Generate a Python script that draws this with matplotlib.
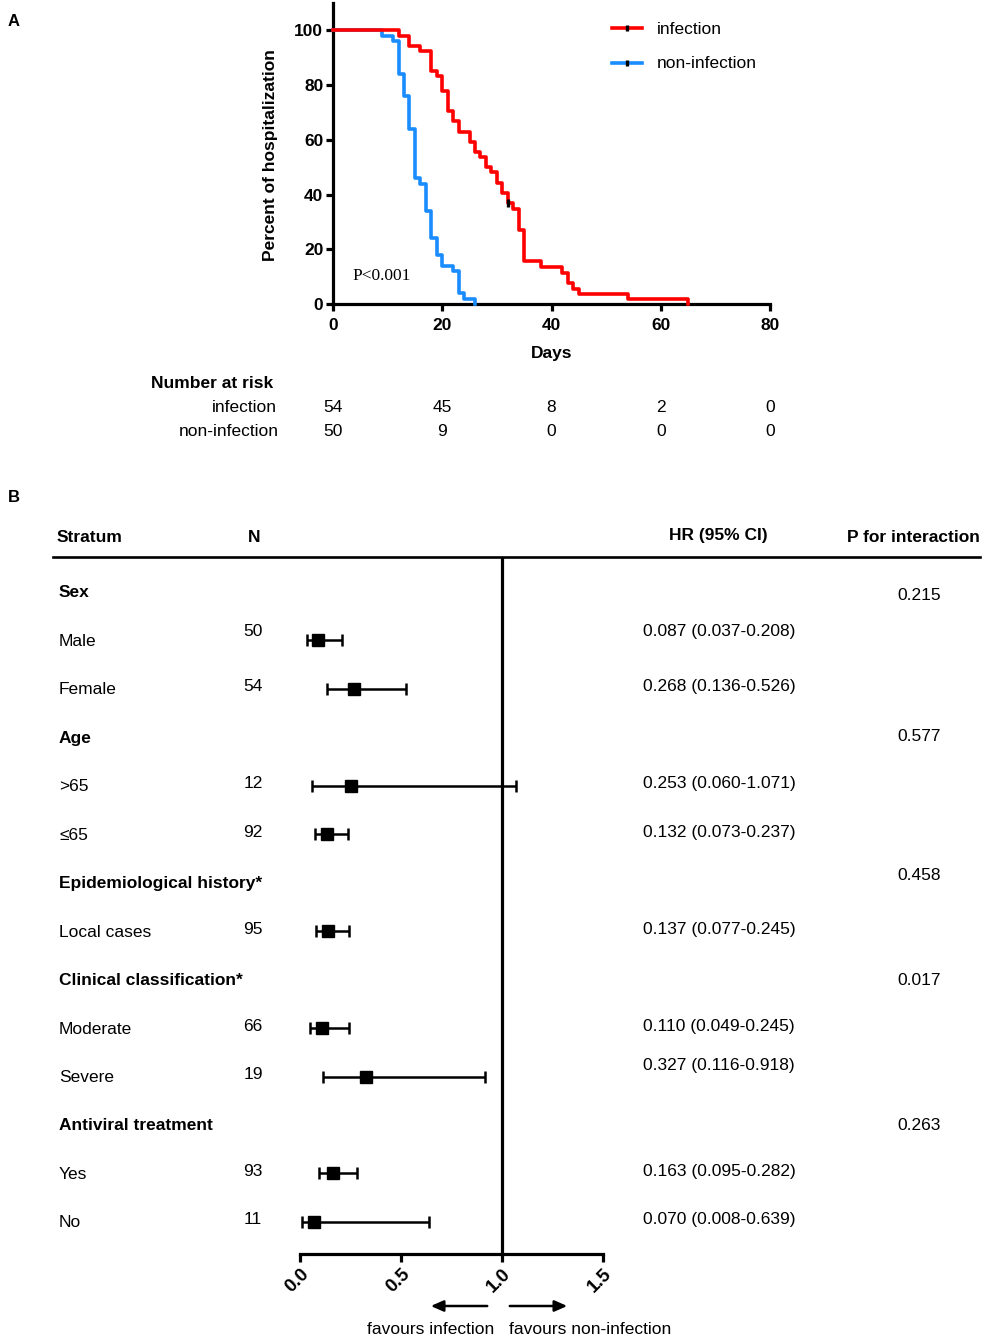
import matplotlib
matplotlib.use('Agg')
import matplotlib.pyplot as plt
from matplotlib.lines import Line2D
from matplotlib.patches import FancyArrowPatch
from matplotlib.transforms import blended_transform_factory

plt.rcParams['font.family'] = ['Liberation Sans', 'DejaVu Sans']

# ---- data: Kaplan-Meier (panel A) ----
inf_days = [0, 12, 14, 16, 18, 19, 20, 21, 22, 23, 25, 26, 27, 28, 29, 30, 31, 32,
            33, 34, 35, 38, 42, 43, 44, 45, 54, 65]
inf_pct = [100, 98.1, 94.4, 92.6, 85.2, 83.3, 77.8, 70.4, 66.7, 63.0, 59.3, 55.6, 53.7,
           50.0, 48.1, 44.4, 40.7, 37.0, 34.9, 27.2, 15.6, 13.6, 11.2, 7.6, 5.5, 3.5, 1.8, 0]
noninf_days = [0, 9, 11, 12, 13, 14, 15, 16, 17, 18, 19, 20, 22, 23, 24, 26]
noninf_pct = [100, 98, 96, 84, 76, 64, 46, 44, 34, 24, 18, 14, 12, 4, 2, 0]
censor_days = [32]
censor_pct = [37.0]

risk_days = [0, 20, 40, 60, 80]
risk_inf = [54, 45, 8, 2, 0]
risk_noninf = [50, 9, 0, 0, 0]

# ---- data: subgroup forest (panel B) ----
group_labels = ['Sex', 'Age', 'Epidemiological history*', 'Clinical classification*',
                'Antiviral treatment']
group_p = ['0.215', '0.577', '0.458', '0.017', '0.263']
sub_labels = [['Male', 'Female'], ['>65', '≤65'], ['Local cases'], ['Moderate', 'Severe'],
              ['Yes', 'No']]
sub_n = [[50, 54], [12, 92], [95], [66, 19], [93, 11]]
sub_hr = [[0.087, 0.268], [0.253, 0.132], [0.137], [0.110, 0.327], [0.163, 0.070]]
sub_lo = [[0.037, 0.136], [0.060, 0.073], [0.077], [0.049, 0.116], [0.095, 0.008]]
sub_hi = [[0.208, 0.526], [1.071, 0.237], [0.245], [0.245, 0.918], [0.282, 0.639]]

RED = '#ff0000'
BLUE = '#1a8cff'
FS = 12.5

W, H = 983, 1339


def fx(x):
    return x / W


def fy(y):
    return 1 - y / H


fig = plt.figure(figsize=(W / 100, H / 100), dpi=100)

# ================= Panel A =================
fig.text(fx(14), fy(22), 'A', fontsize=12, weight='bold', ha='center', va='center')

ax = fig.add_axes([fx(333), fy(304), (770 - 333) / W, (304 - 3) / H])
ax.step(noninf_days, noninf_pct, where='post', color=BLUE, lw=2.6, clip_on=False, zorder=3)
ax.step(inf_days, inf_pct, where='post', color=RED, lw=2.6, clip_on=False, zorder=4)
ax.plot(censor_days, censor_pct, marker='|', ls='none', color='black', ms=6, mew=2.4, zorder=5)
ax.set_xlim(0, 80)
ax.set_ylim(0, 110)
ax.set_xticks([0, 20, 40, 60, 80])
ax.set_yticks([0, 20, 40, 60, 80, 100])
for s in ['top', 'right']:
    ax.spines[s].set_visible(False)
for s in ['left', 'bottom']:
    ax.spines[s].set_linewidth(2.3)
ax.tick_params(direction='out', length=5, width=2.3, labelsize=12.5)
ax.tick_params(axis='x', pad=5)
ax.tick_params(axis='y', pad=2)
for lbl in ax.get_xticklabels() + ax.get_yticklabels():
    lbl.set_fontweight('bold')

fig.text(fx(271), fy(155), 'Percent of hospitalization', rotation=90, fontsize=FS,
         weight='bold', ha='center', va='center')
fig.text(fx(552), fy(354), 'Days', fontsize=FS, weight='bold', ha='center', va='center')
fig.text(fx(352), fy(276), 'P<0.001', fontsize=FS, family=['Liberation Serif', 'DejaVu Serif'],
         ha='left', va='center')

# legend
for yy, col, name in [(28, RED, 'infection'), (63, BLUE, 'non-infection')]:
    fig.add_artist(Line2D([fx(612), fx(642)], [fy(yy), fy(yy)], color=col, lw=2.6))
    fig.add_artist(Line2D([fx(627)], [fy(yy)], marker='|', color='black', ms=5, mew=2.4))
    fig.text(fx(657), fy(yy + 1), name, fontsize=FS, ha='left', va='center')

# number at risk
fig.text(fx(273), fy(384), 'Number at risk', fontsize=FS, weight='bold', ha='right', va='center')
fig.text(fx(277), fy(408), 'infection', fontsize=FS, ha='right', va='center')
fig.text(fx(279), fy(432), 'non-infection', fontsize=FS, ha='right', va='center')
risk_tr = blended_transform_factory(ax.transData, fig.transFigure)
for d, a, b in zip(risk_days, risk_inf, risk_noninf):
    ax.text(d, fy(408), str(a), transform=risk_tr, fontsize=FS, ha='center', va='center',
            clip_on=False)
    ax.text(d, fy(432), str(b), transform=risk_tr, fontsize=FS, ha='center', va='center',
            clip_on=False)

# ================= Panel B =================
fig.text(fx(14), fy(498), 'B', fontsize=12, weight='bold', ha='center', va='center')

fig.text(fx(57), fy(537), 'Stratum', fontsize=FS, weight='bold', ha='left', va='center')
fig.text(fx(254), fy(537), 'N', fontsize=FS, weight='bold', ha='center', va='center')
fig.text(fx(718), fy(535), 'HR (95% CI)', fontsize=FS, weight='bold', ha='center', va='center')
fig.text(fx(913), fy(537), 'P for interaction', fontsize=FS, weight='bold', ha='center',
         va='center')
fig.add_artist(Line2D([fx(53), fx(980)], [fy(557), fy(557)], color='black', lw=1.9))

fa = fig.add_axes([fx(300), fy(1254), 303 / W, (1254 - 557) / H])
fa.set_xlim(0, 1.5)
fa.set_ylim(1254, 557)
for s in ['top', 'right', 'left']:
    fa.spines[s].set_visible(False)
fa.spines['bottom'].set_linewidth(2.3)
fa.set_yticks([])
fa.set_xticks([0, 0.5, 1.0, 1.5])
fa.set_xticklabels(['0.0', '0.5', '1.0', '1.5'])
fa.tick_params(axis='x', direction='out', length=6, width=2.3, labelsize=13.5, pad=2)
for lbl in fa.get_xticklabels():
    lbl.set_fontweight('bold')
    lbl.set_rotation(45)
    lbl.set_ha('right')
    lbl.set_va('top')
    lbl.set_rotation_mode('anchor')
fa.axvline(1.0, color='black', lw=2.3)

row_gap = 48.45
row = 0
n_dy = {'Male': -9}
hr_dy = {'Male': -9, 'Severe': -11}
p_dy = {'Sex': 3, 'Age': -1, 'Epidemiological history*': -7}
xs, ys, lo_err, hi_err = [], [], [], []
for g, gl in enumerate(group_labels):
    y = 592 + row * row_gap
    fig.text(fx(59), fy(y + 1), gl, fontsize=FS, weight='bold', ha='left', va='center')
    fig.text(fx(919), fy(y + p_dy.get(gl, 1)), group_p[g], fontsize=FS, ha='center',
             va='center')
    row += 1
    for lab, n, hr, lo, hi in zip(sub_labels[g], sub_n[g], sub_hr[g], sub_lo[g], sub_hi[g]):
        y = 592 + row * row_gap
        fig.text(fx(59), fy(y + 1), lab, fontsize=FS, ha='left', va='center')
        fig.text(fx(253), fy(y + n_dy.get(lab, -2)), str(n), fontsize=FS, ha='center',
                 va='center')
        fig.text(fx(643), fy(y + hr_dy.get(lab, -2)), f'{hr:.3f} ({lo:.3f}-{hi:.3f})',
                 fontsize=FS, ha='left', va='center')
        xs.append(hr)
        ys.append(y)
        lo_err.append(hr - lo)
        hi_err.append(hi - hr)
        row += 1

fa.errorbar(xs, ys, xerr=[lo_err, hi_err], fmt='s', color='black', ms=8,
            elinewidth=1.8, capsize=4.5, capthick=1.8, clip_on=False, zorder=4)

# favours arrows
for (x0, x1) in [(490, 428), (507, 570)]:
    fig.add_artist(FancyArrowPatch((fx(x0), fy(1306)), (fx(x1), fy(1306)),
                                   transform=fig.transFigure,
                                   arrowstyle='-|>,head_length=0.5,head_width=0.22',
                                   mutation_scale=15, lw=1.8, color='black'))
fig.text(fx(431), fy(1330), 'favours infection', fontsize=FS, ha='center', va='center')
fig.text(fx(590), fy(1330), 'favours non-infection', fontsize=FS, ha='center', va='center')

fig.savefig('out.png', dpi=100, facecolor='white')
